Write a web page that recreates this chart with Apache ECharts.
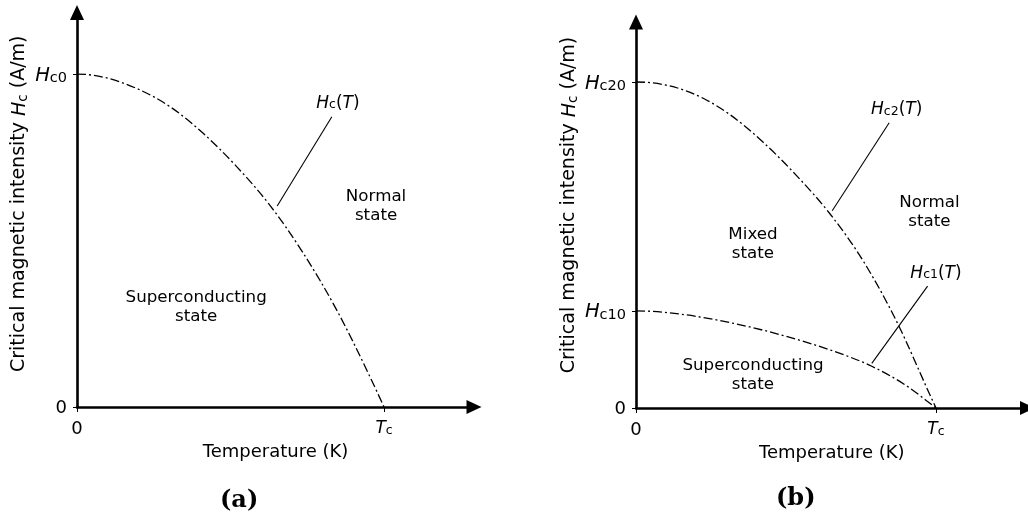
<!DOCTYPE html>
<html>
<head>
<meta charset="utf-8">
<title>Critical field vs temperature</title>
<script src="https://cdn.jsdelivr.net/npm/echarts@6/dist/echarts.min.js"></script>
<style>
  html, body { margin: 0; padding: 0; background: #fff; }
  #chart { width: 1028px; height: 516px; }
</style>
</head>
<body>
<div id="chart"></div>
<script>
// Temperature in units of Tc, field in units of the zero-temperature critical field.

// (a) type-I superconductor: Hc(T)
const tempA = [0, 0.194, 0.303, 0.411, 0.520, 0.629, 0.737, 0.846, 0.954, 1];
const hcA   = [1, 0.957, 0.902, 0.822, 0.722, 0.605, 0.462, 0.291, 0.091, 0];

// (b) type-II superconductor: Hc2(T) and Hc1(T)
const tempB2 = [0, 0.224, 0.313, 0.424, 0.536, 0.647, 0.758, 0.869, 0.98, 1];
const hc2B   = [1, 0.950, 0.900, 0.815, 0.712, 0.595, 0.450, 0.265, 0.040, 0];
const tempB1 = [0, 0.147, 0.313, 0.48, 0.647, 0.786, 0.902, 1];
const hc1B   = [0.298, 0.288, 0.262, 0.225, 0.178, 0.128, 0.068, 0];

// Tick positions and labels
const xTickValues = [0, 1];
const xTickLabels = ['{n|0}', '{i|T}{s|c}'];
const yTickValuesA = [0, 1];
const yTickLabelsA = ['{n|0}', '{I|H}{S|c0}'];
const yTickValuesB = [0, 0.298, 1];
const yTickLabelsB = ['{n|0}', '{I|H}{S|c10}', '{I|H}{S|c20}'];

const FONT = 'DejaVu Sans';
const rich = {
  i: { fontFamily: FONT, fontStyle: 'italic', fontSize: 17, color: '#000', lineHeight: 20, verticalAlign: 'bottom' },
  s: { fontFamily: FONT, fontSize: 12.5, color: '#000', lineHeight: 15, verticalAlign: 'bottom' },
  n: { fontFamily: FONT, fontSize: 18, color: '#000', lineHeight: 21, verticalAlign: 'bottom' },
  I: { fontFamily: FONT, fontStyle: 'italic', fontSize: 19.5, color: '#000', lineHeight: 23, verticalAlign: 'bottom' },
  S: { fontFamily: FONT, fontSize: 14.5, color: '#000', lineHeight: 17, verticalAlign: 'bottom' }
};
const richNote = {
  i: { fontFamily: FONT, fontStyle: 'italic', fontSize: 17, color: '#000', lineHeight: 20, verticalAlign: 'bottom' },
  s: { fontFamily: FONT, fontSize: 12.5, color: '#000', lineHeight: 15, verticalAlign: 'bottom' },
  n: { fontFamily: FONT, fontSize: 17, color: '#000', lineHeight: 20, verticalAlign: 'bottom' }
};
const richName = {
  i: { fontFamily: FONT, fontStyle: 'italic', fontSize: 19, color: '#000', lineHeight: 22, verticalAlign: 'bottom' },
  s: { fontFamily: FONT, fontSize: 13.5, color: '#000', lineHeight: 17, verticalAlign: 'bottom' },
  n: { fontFamily: FONT, fontSize: 19, color: '#000', lineHeight: 22, verticalAlign: 'bottom' }
};

function pairs(xs, ys) { return xs.map((x, k) => [x, ys[k]]); }
function lookup(values, labels) {
  return v => {
    let best = 0;
    values.forEach((t, k) => { if (Math.abs(t - v) < Math.abs(values[best] - v)) best = k; });
    return labels[best];
  };
}

const axisLine = (size) => ({
  show: true,
  onZero: false,
  symbol: ['none', 'triangle'],
  symbolSize: size,
  lineStyle: { color: '#000', width: 2.6 }
});

function xAxis(idx, max, nameGap) {
  return {
    type: 'value', gridIndex: idx, min: 0, max: max,
    axisLine: axisLine([14, 15]),
    axisTick: { show: true, customValues: xTickValues, length: 5, lineStyle: { color: '#000', width: 1 } },
    axisLabel: { show: true, customValues: xTickValues, margin: 10, formatter: lookup(xTickValues, xTickLabels), rich: rich },
    splitLine: { show: false },
    name: 'Temperature (K)', nameLocation: 'middle', nameGap: nameGap,
    nameTextStyle: { fontFamily: FONT, fontSize: 18, color: '#000' }
  };
}

function yAxis(idx, max, values, labels, nameGap, shift) {
  return {
    type: 'value', gridIndex: idx, min: 0, max: max,
    axisLine: axisLine([14, 15]),
    axisTick: { show: true, customValues: values, length: 4, lineStyle: { color: '#000', width: 1 } },
    axisLabel: { show: true, customValues: values, margin: 10, formatter: lookup(values, labels), rich: rich },
    splitLine: { show: false },
    name: 'Critical magnetic intensity {i|H}{s|c} (A/m)', nameLocation: 'middle', nameGap: nameGap,
    nameTextStyle: { fontFamily: FONT, fontSize: 19, color: '#000', rich: richName, padding: [0, 0, 0, shift] }
  };
}

const leaderStyle = { color: '#000', width: 1.1, type: 'solid' };

function leaders(list) {
  return {
    silent: true, symbol: ['none', 'none'],
    label: { show: false },
    lineStyle: leaderStyle,
    emphasis: { disabled: true },
    data: list.map(seg => [{ coord: seg[0] }, { coord: seg[1] }])
  };
}
function notes(list) {
  return {
    silent: true, symbol: 'rect', symbolSize: 1,
    itemStyle: { color: 'rgba(0,0,0,0)' },
    label: {
      show: true, position: 'inside', formatter: '{b}',
      fontFamily: FONT, fontSize: 16.7, lineHeight: 19, color: '#000', align: 'center', rich: richNote
    },
    data: list.map(n => ({ name: n[0], coord: n[1] }))
  };
}

// Draws the whole series as one dash-dot cubic Hermite curve through its
// points (placed through the axes with api.coord). Slopes at inner points
// come from the neighbouring secants; the curve leaves T = 0 flat.
function renderCurve(params, api) {
  if (params.dataIndexInside !== 0) return null;
  const n = params.dataInsideLength;
  const p = [];
  for (let k = 0; k < n; k++) p.push(api.coord([api.value(0, k), api.value(1, k)]));
  const h = [], dsec = [];
  for (let k = 0; k < n - 1; k++) {
    h.push(p[k + 1][0] - p[k][0]);
    dsec.push((p[k + 1][1] - p[k][1]) / h[k]);
  }
  const m = new Array(n);
  m[0] = 0;
  for (let k = 1; k < n - 1; k++) {
    m[k] = (dsec[k - 1] * h[k] + dsec[k] * h[k - 1]) / (h[k - 1] + h[k]);
  }
  m[n - 1] = dsec[n - 2];
  let d = 'M' + p[0][0] + ' ' + p[0][1];
  for (let k = 0; k < n - 1; k++) {
    const t = h[k] / 3;
    d += ' C' + (p[k][0] + t) + ' ' + (p[k][1] + m[k] * t) + ' ' +
         (p[k + 1][0] - t) + ' ' + (p[k + 1][1] - m[k + 1] * t) + ' ' +
         p[k + 1][0] + ' ' + p[k + 1][1];
  }
  return {
    type: 'path',
    shape: { pathData: d },
    style: { stroke: '#000', lineWidth: 1.3, lineDash: [9, 3, 2, 3], fill: 'none' },
    silent: true
  };
}

function curve(name, xi, xs, ys, extra) {
  return Object.assign({
    name: name, type: 'custom', xAxisIndex: xi, yAxisIndex: xi,
    data: pairs(xs, ys), encode: { x: 0, y: 1 },
    renderItem: renderCurve, silent: true, clip: false
  }, extra || {});
}

const option = {
  animation: false,
  backgroundColor: '#fff',
  grid: [
    { left: 77, top: 12.5, width: 397, height: 394.5 },
    { left: 636, top: 22, width: 391.5, height: 386 }
  ],
  xAxis: [xAxis(0, 1.293, 35), xAxis(1, 1.305, 36)],
  yAxis: [
    yAxis(0, 1.185, yTickValuesA, yTickLabelsA, 47, 12),
    yAxis(1, 1.184, yTickValuesB, yTickLabelsB, 56, 20)
  ],
  series: [
    curve('Hc(T)', 0, tempA, hcA, {
      markLine: leaders([[[0.830, 0.872], [0.652, 0.604]]]),
      markPoint: notes([
        ['{i|H}{s|c}{n|(}{i|T}{n|)}', [0.850, 0.917]],
        ['Normal\nstate', [0.974, 0.604]],
        ['Superconducting\nstate', [0.388, 0.301]]
      ])
    }),
    curve('Hc2(T)', 1, tempB2, hc2B, {
      markLine: leaders([
        [[0.844, 0.875], [0.654, 0.605]],
        [[0.972, 0.374], [0.786, 0.137]]
      ]),
      markPoint: notes([
        ['{i|H}{s|c2}{n|(}{i|T}{n|)}', [0.869, 0.919]],
        ['{i|H}{s|c1}{n|(}{i|T}{n|)}', [1.0, 0.418]],
        ['Mixed\nstate', [0.39, 0.503]],
        ['Normal\nstate', [0.978, 0.601]],
        ['Superconducting\nstate', [0.39, 0.10]]
      ])
    }),
    curve('Hc1(T)', 1, tempB1, hc1B)
  ],
  graphic: [
    { type: 'text', left: 240 - 20, top: 489,
      style: { text: '(a)', font: 'bold 24px "DejaVu Serif"', fill: '#000' } },
    { type: 'text', left: 796 - 20, top: 487,
      style: { text: '(b)', font: 'bold 24px "DejaVu Serif"', fill: '#000' } }
  ]
};

const chart = echarts.init(document.getElementById('chart'), null, { renderer: 'canvas' });
chart.setOption(option);
</script>
</body>
</html>
